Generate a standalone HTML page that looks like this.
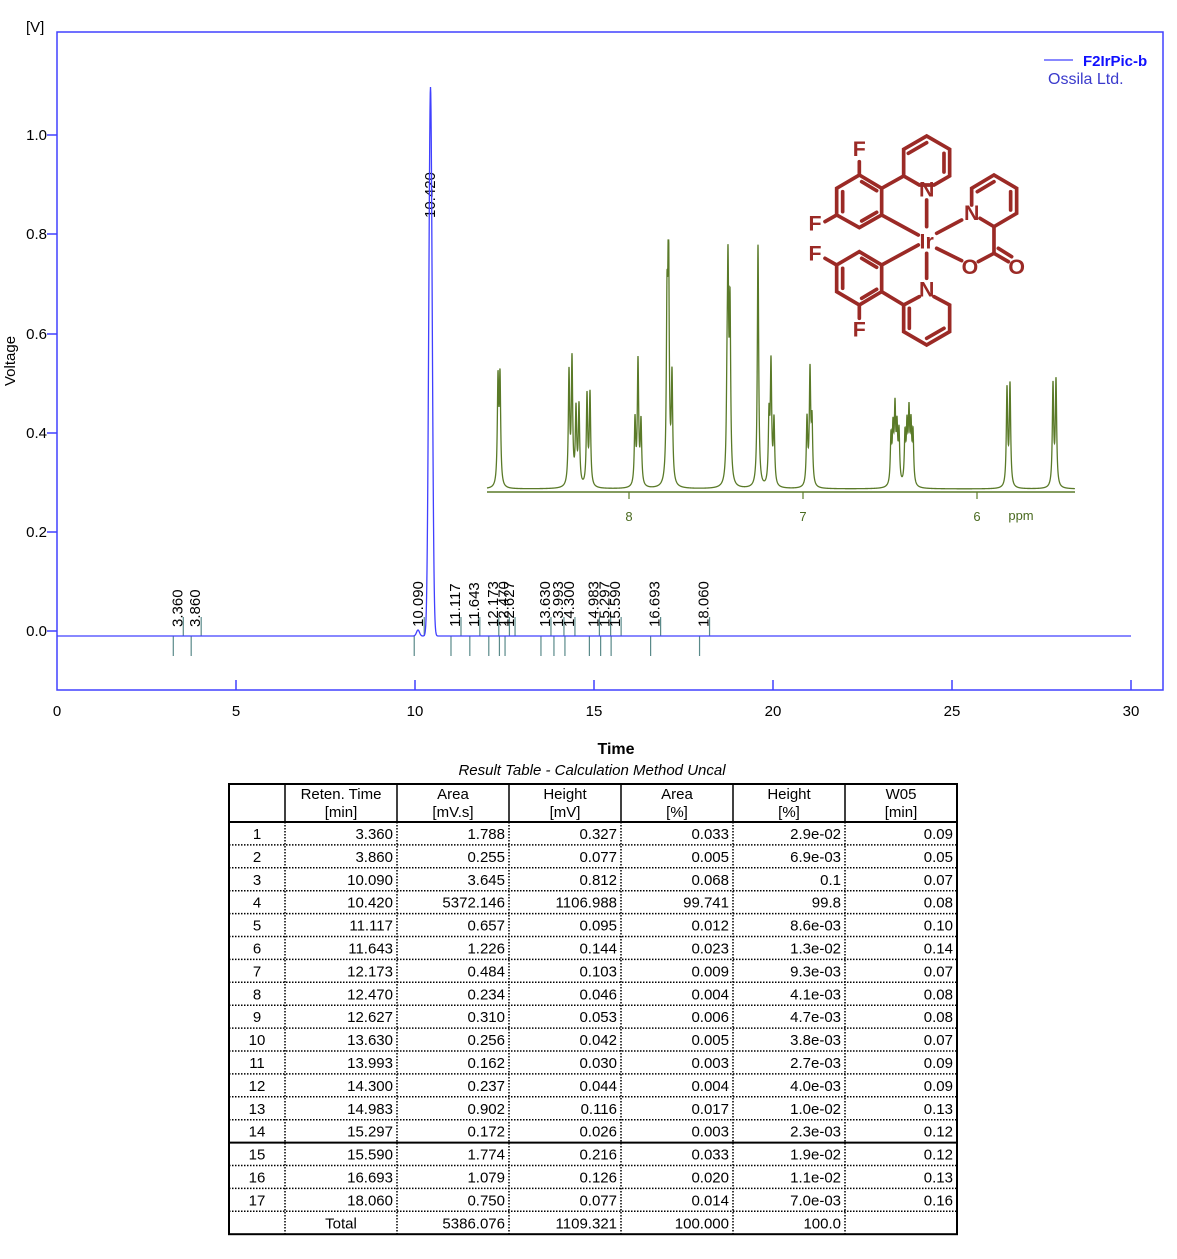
<!DOCTYPE html>
<html><head><meta charset="utf-8">
<style>
html,body{margin:0;padding:0;background:#fff;}
svg{display:block;font-family:"Liberation Sans",Arial,sans-serif;}
</style></head>
<body>
<svg id="s" width="1177" height="1259" viewBox="0 0 1177 1259" xmlns="http://www.w3.org/2000/svg">
<rect width="1177" height="1259" fill="#fff"/>
<rect x="57" y="32" width="1106" height="658" fill="none" stroke="#4040ff" stroke-width="1.5"/>
<text x="26" y="32" font-size="15" fill="#000">[V]</text>
<text transform="translate(15,361) rotate(-90)" font-size="15" text-anchor="middle">Voltage</text>
<g font-size="15" text-anchor="end" fill="#000">
<text x="47" y="140">1.0</text><text x="47" y="239">0.8</text><text x="47" y="339">0.6</text>
<text x="47" y="438">0.4</text><text x="47" y="537">0.2</text><text x="47" y="636">0.0</text>
</g>
<g stroke="#4040ff" stroke-width="1.5">
<line x1="47" y1="135" x2="57" y2="135"/><line x1="47" y1="234" x2="57" y2="234"/><line x1="47" y1="334" x2="57" y2="334"/>
<line x1="47" y1="433" x2="57" y2="433"/><line x1="47" y1="532" x2="57" y2="532"/><line x1="47" y1="631" x2="57" y2="631"/>
<line x1="236" y1="690" x2="236" y2="680"/><line x1="415" y1="690" x2="415" y2="680"/><line x1="594" y1="690" x2="594" y2="680"/>
<line x1="773" y1="690" x2="773" y2="680"/><line x1="952" y1="690" x2="952" y2="680"/><line x1="1131" y1="690" x2="1131" y2="680"/>
</g>
<g font-size="15" text-anchor="middle">
<text x="57" y="716">0</text><text x="236" y="716">5</text><text x="415" y="716">10</text><text x="594" y="716">15</text>
<text x="773" y="716">20</text><text x="952" y="716">25</text><text x="1131" y="716">30</text>
</g>
<text x="616" y="754" font-size="16" font-weight="bold" text-anchor="middle">Time</text>
<text x="592" y="775" font-size="15" font-style="italic" text-anchor="middle">Result Table - Calculation Method Uncal</text>
<line x1="1044" y1="60" x2="1073" y2="60" stroke="#4040ff" stroke-width="1.2"/>
<text x="1083" y="66" font-size="15" font-weight="bold" fill="#1010ff">F2IrPic-b</text>
<text x="1048" y="84" font-size="16" fill="#3a3acc">Ossila Ltd.</text>
<g id="marks"></g>
<path id="trace" fill="none" stroke="#4040ff" stroke-width="1.3"/>
<path id="nmr" fill="none" stroke="#5a7a28" stroke-width="1.3"/>
<line x1="487" y1="492" x2="1075" y2="492" stroke="#5a7a28" stroke-width="1.5"/>
<g stroke="#5a7a28" stroke-width="1.2"><line x1="629" y1="492" x2="629" y2="499"/><line x1="803" y1="492" x2="803" y2="499"/><line x1="977" y1="492" x2="977" y2="499"/></g>
<g font-size="13" fill="#4a6a20" text-anchor="middle"><text x="629" y="521">8</text><text x="803" y="521">7</text><text x="977" y="521">6</text><text x="1021" y="520">ppm</text></g>
<g transform="translate(790,40) scale(0.3333)" stroke="#9b2a26" stroke-width="11" fill="none" stroke-linecap="round">
<polygon points="410,288 479,328 479,408 432,435 388,435 341,408 341,328" />
<line x1="355" y1="340" x2="410" y2="308"/><line x1="462" y1="340" x2="462" y2="396"/>
<polygon points="140,445 208,405 275,445 275,525 208,563 140,525"/>
<line x1="158" y1="455" x2="158" y2="515"/><line x1="215" y1="425" x2="260" y2="452"/><line x1="215" y1="543" x2="260" y2="517"/>
<line x1="208" y1="405" x2="208" y2="365"/><line x1="140" y1="525" x2="105" y2="545"/>
<line x1="275" y1="445" x2="341" y2="408"/><line x1="275" y1="525" x2="385" y2="585"/>
<line x1="410" y1="480" x2="410" y2="560"/><line x1="410" y1="640" x2="410" y2="715"/>
<polygon points="140,675 208,635 275,675 275,755 208,795 140,755"/>
<line x1="158" y1="685" x2="158" y2="745"/><line x1="215" y1="655" x2="260" y2="682"/><line x1="215" y1="775" x2="260" y2="748"/>
<line x1="140" y1="675" x2="105" y2="655"/><line x1="208" y1="795" x2="208" y2="835"/>
<line x1="275" y1="675" x2="385" y2="615"/><line x1="275" y1="755" x2="341" y2="795"/>
<polyline points="388,770 341,795 341,875 410,915 479,875 479,795 432,770"/>
<line x1="358" y1="805" x2="358" y2="865"/><line x1="410" y1="895" x2="462" y2="865"/>
<polyline points="545,495 545,445 612,405 680,445 680,520 612,560 570,535"/>
<line x1="562" y1="455" x2="612" y2="425"/><line x1="662" y1="455" x2="662" y2="510"/>
<line x1="440" y1="580" x2="515" y2="540"/><line x1="440" y1="625" x2="515" y2="662"/>
<line x1="612" y1="560" x2="612" y2="640"/><line x1="612" y1="640" x2="565" y2="665"/>
<line x1="612" y1="640" x2="655" y2="665"/><line x1="625" y1="625" x2="665" y2="650"/>
</g>
<g transform="translate(790,40) scale(0.3333)" fill="#9b2a26" font-size="64" font-weight="bold" text-anchor="middle" font-family="Liberation Sans,sans-serif">
<text x="208" y="348">F</text><text x="75" y="572">F</text><text x="410" y="470">N</text><text x="410" y="625">Ir</text>
<text x="545" y="540">N</text><text x="75" y="662">F</text><text x="410" y="770">N</text><text x="208" y="890">F</text>
<text x="540" y="702">O</text><text x="680" y="702">O</text>
</g>
<g id="tbl"></g>
</svg>
<script>
(function(){
var NS="http://www.w3.org/2000/svg";
function el(p,t,a,txt){var e=document.createElementNS(NS,t);for(var k in a)e.setAttribute(k,a[k]);if(txt!=null)e.textContent=txt;p.appendChild(e);return e;}
var bx=636,d="";
for(var x=57;x<=1131;x+=0.25){var y=bx;
 y-=549*Math.exp(-Math.pow((x-430.5)/1.7,2)/2);
 y-=6*Math.exp(-Math.pow((x-418)/1.5,2)/2);
 d+=(x==57?"M":"L")+x.toFixed(2)+","+y.toFixed(2);}
document.getElementById('trace').setAttribute('d',d);
var m=document.getElementById('marks');
var times=["3.360","3.860","10.090","11.117","11.643","12.173","12.470","12.627","13.630","13.993","14.300","14.983","15.297","15.590","16.693","18.060"];
times.forEach(function(tt){var x=57+35.8*parseFloat(tt);
 el(m,'line',{x1:x-4,y1:636,x2:x-4,y2:656,stroke:'#5a8a8a','stroke-width':1.2});
 el(m,'line',{x1:x+6,y1:617,x2:x+6,y2:636,stroke:'#5a8a8a','stroke-width':1.2});
 el(m,'text',{transform:'translate('+(x+5)+',627) rotate(-90)','font-size':15},tt);});
el(m,'text',{transform:'translate(435,218) rotate(-90)','font-size':15},"10.420");
var pk=[[498,385],[500,383],[569,377],[572,365],[576,415],[579,410],[587,399],[590,397],[635,424],[638,365],[641,426],
[667,330],[668.5,246],[672,383],[727,425],[728,293],[730,319],[758,246],[769,423],[771,370],[774,425],[807,423],[810,377],[812,428],
[891,442],[893,437],[895,417],[897,437],[899,439],[905,441],[907,435],[909,422],[911,434],[913,439],[1007,392],[1010,388],[1053,388],[1056,384]];
var base=489,dn="",w=0.8;
for(var x=487;x<=1075;x+=0.1){var y=base;for(var i=0;i<pk.length;i++){var h=base-pk[i][1];var q=(x-pk[i][0])/w;y-=h/(1+q*q);}
 dn+=(x==487?"M":"L")+x.toFixed(1)+","+Math.max(y,240).toFixed(2);}
document.getElementById('nmr').setAttribute('d',dn);
var g=document.getElementById('tbl');
var cx=[229,285,397,509,621,733,845,957],tp=784,hb=822,rh=22.9;
var rows=[["1","3.360","1.788","0.327","0.033","2.9e-02","0.09"],["2","3.860","0.255","0.077","0.005","6.9e-03","0.05"],
["3","10.090","3.645","0.812","0.068","0.1","0.07"],["4","10.420","5372.146","1106.988","99.741","99.8","0.08"],
["5","11.117","0.657","0.095","0.012","8.6e-03","0.10"],["6","11.643","1.226","0.144","0.023","1.3e-02","0.14"],
["7","12.173","0.484","0.103","0.009","9.3e-03","0.07"],["8","12.470","0.234","0.046","0.004","4.1e-03","0.08"],
["9","12.627","0.310","0.053","0.006","4.7e-03","0.08"],["10","13.630","0.256","0.042","0.005","3.8e-03","0.07"],
["11","13.993","0.162","0.030","0.003","2.7e-03","0.09"],["12","14.300","0.237","0.044","0.004","4.0e-03","0.09"],
["13","14.983","0.902","0.116","0.017","1.0e-02","0.13"],["14","15.297","0.172","0.026","0.003","2.3e-03","0.12"],
["15","15.590","1.774","0.216","0.033","1.9e-02","0.12"],["16","16.693","1.079","0.126","0.020","1.1e-02","0.13"],
["17","18.060","0.750","0.077","0.014","7.0e-03","0.16"],["","Total","5386.076","1109.321","100.000","100.0",""]];
var bot=hb+rh*rows.length;
for(var i=1;i<7;i++){el(g,'line',{x1:cx[i],y1:tp,x2:cx[i],y2:hb,stroke:'#000','stroke-width':1.5});
 el(g,'line',{x1:cx[i],y1:hb,x2:cx[i],y2:bot,stroke:'#000','stroke-width':1.5,'stroke-dasharray':'1.5,1.5'});}
for(var r=1;r<rows.length;r++){var y=hb+rh*r;
 if(r==14)el(g,'line',{x1:229,y1:y,x2:957,y2:y,stroke:'#000','stroke-width':2});
 else el(g,'line',{x1:229,y1:y,x2:957,y2:y,stroke:'#000','stroke-width':1.5,'stroke-dasharray':'1.5,1.5'});}
el(g,'rect',{x:229,y:tp,width:728,height:bot-tp,fill:'none',stroke:'#000','stroke-width':2});
el(g,'line',{x1:229,y1:hb,x2:957,y2:hb,stroke:'#000','stroke-width':2});
var hd=[["Reten. Time","[min]"],["Area","[mV.s]"],["Height","[mV]"],["Area","[%]"],["Height","[%]"],["W05","[min]"]];
hd.forEach(function(h,i){var x=(cx[i+1]+cx[i+2])/2;el(g,'text',{x:x,y:799,'font-size':15,'text-anchor':'middle'},h[0]);el(g,'text',{x:x,y:817,'font-size':15,'text-anchor':'middle'},h[1]);});
rows.forEach(function(r,j){var y=hb+rh*j+17;
 el(g,'text',{x:257,y:y,'font-size':15,'text-anchor':'middle'},r[0]);
 for(var i=1;i<7;i++){if(j==17&&i==1)el(g,'text',{x:341,y:y,'font-size':15,'text-anchor':'middle'},r[i]);
  else el(g,'text',{x:cx[i+1]-4,y:y,'font-size':15,'text-anchor':'end'},r[i]);}});
})();
</script>
</body></html>
